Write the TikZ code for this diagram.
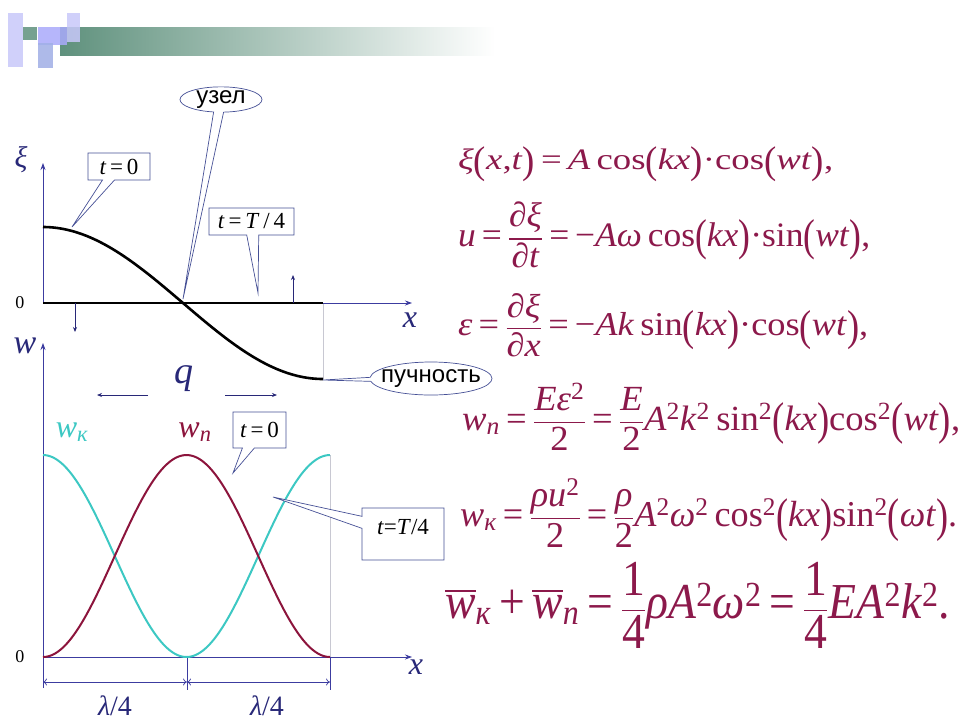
\documentclass[tikz,border=0pt]{standalone}
\usepackage{amsmath}
\usepackage{fontspec}
\setmainfont{Liberation Serif}[ItalicFont={Liberation Serif Italic}, BoldFont={Liberation Serif Bold}]
\newfontfamily\labelsans{Liberation Sans}
\usepackage{graphicx}
\newcommand{\iv}[1]{\textit{#1}}
\newcommand{\LP}{\raisebox{-0.14em}{\scalebox{1}[1.3]{(}}}
\newcommand{\RP}{\raisebox{-0.14em}{\scalebox{1}[1.3]{)}}}
\newcommand{\Fr}[2]{$\dfrac{\text{#1}}{\text{#2}}$}
\newcommand{\eqs}{\,=\,}
\usetikzlibrary{arrows.meta,shapes.callouts,shapes.geometric,calc}
\definecolor{navy}{RGB}{40,40,120}
\definecolor{axblue}{RGB}{60,60,160}
\definecolor{eqred}{RGB}{140,25,75}
\definecolor{curvered}{RGB}{140,20,60}
\definecolor{curvecyan}{RGB}{60,200,195}
\definecolor{cbord}{RGB}{70,80,150}
\definecolor{thingray}{RGB}{200,200,210}
\definecolor{barteal}{RGB}{95,145,125}
\definecolor{lav}{RGB}{200,200,250}
\definecolor{lavb}{RGB}{160,175,230}
\newcommand{\fs}[1]{\fontsize{#1}{#1}\selectfont}
\tikzset{
  axisline/.style={draw=axblue, line width=0.8pt, -{Stealth[length=7pt,width=5pt]}},
  smallarr/.style={draw=navy, line width=0.8pt, -{Stealth[length=5pt,width=4pt]}},
  dimarr/.style={draw=axblue, line width=0.7pt, {To[length=4pt,width=7pt]}-{To[length=4pt,width=7pt]}},
  tickline/.style={draw=axblue, line width=0.7pt},
  guide/.style={draw=thingray, line width=0.6pt},
  lbl/.style={inner sep=0pt, text=navy},
  cbox/.style={rectangle callout, draw=cbord, fill=white, line width=0.7pt, inner sep=0pt, font=\fs{23}, callout pointer width=12pt},
  cell/.style={ellipse callout, draw=cbord, fill=white, line width=0.7pt, inner sep=0pt, font=\labelsans\fs{24}, callout pointer arc=14},
  eqn/.style={anchor=north west, inner sep=0pt, text=eqred},
  logo/.style={draw=none, fill opacity=0.85}
}
\begin{document}
\begin{tikzpicture}[x=1pt,y=-1pt]
\useasboundingbox[fill=white] (0,0) rectangle (968,721);
% header bar and logo
\shade[left color=barteal, middle color=barteal!55, right color=white, draw=none] (60,27) rectangle (495,55);
\fill[logo, lav] (8,13) rectangle (23,67);
\fill[logo, lav] (67,13) rectangle (80,42);
\fill[logo, lav!85!blue] (38,27) rectangle (67,45);
\fill[logo, lavb] (38,43) rectangle (53,68);
\fill[logo, barteal] (23,27) rectangle (37,40);

% ---------- upper plot ----------
\coordinate (O1) at (43,303);
\coordinate (Y1) at (43,163);
\coordinate (X1) at (412,303);
\coordinate (E1) at (323,303);
\coordinate (E1b) at (323,380);
\draw[guide] (E1) -- (E1b);
\draw[axisline] (O1) -- (Y1);
\draw[axisline] (O1) -- (X1);
\draw[line width=2.6pt, black] (O1) -- (E1);
\draw[line width=2.6pt, black] plot[domain=0:180, samples=90] ({43+\x/180*280},{303-76*cos(\x)});
\coordinate (D1) at (75,303); \coordinate (D2) at (75,332);
\coordinate (U1) at (293,303); \coordinate (U2) at (293,275);
\draw[smallarr] (D1) -- (D2);
\draw[smallarr] (U1) -- (U2);
\node[lbl, font=\fs{30}] (xilbl) at (21,160) {\iv{ξ}};
\node[inner sep=0pt, font=\fs{18}] (zero1) at (20,303) {0};
\node[lbl, font=\fs{32}] (xlbl1) at (410,320) {\iv{x}};

% callouts upper
\coordinate (tipA) at (72,227);
\coordinate (tipB) at (258,293);
\coordinate (tipC) at (183,299);
\coordinate (tipD) at (323,380);
\node[cbox, minimum width=62pt, minimum height=27pt, callout absolute pointer={(tipA)}] (c1) at (119,166.5) {\iv{t}\eqs 0};
\node[cbox, minimum width=85pt, minimum height=27pt, callout absolute pointer={(tipB)}] (c2) at (251.5,221.5) {\iv{t}\eqs\iv{T}\,/\,4};
\node[cell, minimum width=82pt, minimum height=25pt, callout absolute pointer={(tipC)}] (uzel) at (221,99.5) {узел};
\node[cell, inner xsep=-8pt, minimum width=122pt, minimum height=33pt, callout absolute pointer={(tipD)}] (puch) at (431,378.5) {пучность};

% ---------- lower plot ----------
\coordinate (O2) at (43,657);
\coordinate (Y2b) at (43,688);
\coordinate (Y2) at (43,343);
\coordinate (X2) at (412,657);
\coordinate (M2) at (187,657);
\coordinate (M2b) at (187,690);
\coordinate (R2) at (330,657);
\coordinate (R2b) at (330,690);
\coordinate (R2t) at (330,455);
\draw[guide] (R2t) -- (R2);
\draw[axisline] (Y2b) -- (Y2);
\draw[axisline] (O2) -- (X2);
\draw[tickline] (M2) -- (M2b);
\draw[tickline] (R2) -- (R2b);
\draw[line width=2pt, curvecyan] plot[domain=0:180, samples=120] ({43+\x/180*287},{657-202*pow(cos(\x),2)});
\draw[line width=2pt, curvered] plot[domain=0:180, samples=120] ({43+\x/180*287},{657-202*pow(sin(\x),2)});
\coordinate (DL) at (43,682); \coordinate (DM) at (187,682); \coordinate (DR) at (330,682);
\draw[dimarr] (DL) -- (DM);
\draw[dimarr] (DM) -- (DR);
\node[lbl, font=\fs{28}] (lam1) at (115,706) {\iv{λ}/4};
\node[lbl, font=\fs{28}] (lam2) at (267,706) {\iv{λ}/4};
\node[lbl, font=\fs{34}] (wlbl) at (25,346) {\iv{w}};
\node[inner sep=0pt, font=\fs{18}] (zero2) at (20,657) {0};
\node[lbl, font=\fs{32}] (xlbl2) at (416,667) {\iv{x}};
\node[lbl, font=\fs{38}] (qlbl) at (184,379) {\iv{q}};
\coordinate (qa1) at (148,395); \coordinate (qa2) at (97,395);
\coordinate (qb1) at (225,395); \coordinate (qb2) at (277,395);
\draw[smallarr] (qa1) -- (qa2);
\draw[smallarr] (qb1) -- (qb2);
\node[inner sep=0pt, text=curvecyan, font=\fs{32}] (wk) at (72,432) {\iv{w}\textsubscript{\iv{к}}};
\node[inner sep=0pt, text=curvered, font=\fs{32}] (wn) at (195,432) {\iv{w}\textsubscript{\iv{п}}};
\coordinate (tipE) at (233,473);
\coordinate (tipF) at (273,497);
\node[cbox, minimum width=53pt, minimum height=36pt, callout absolute pointer={(tipE)}] (c3) at (259.5,430) {\iv{t}\eqs 0};
\node[cbox, minimum width=82pt, minimum height=52pt, text height=22pt, text depth=22pt, callout absolute pointer={(tipF)}] (c4) at (403,534) {\iv{t}=\iv{T}/4};

% ---------- equations ----------
\node[eqn] (eq1) at (458,147) {\resizebox*{375pt}{35pt}{\fs{30}\iv{ξ}\LP\iv{x},\iv{t}\RP\eqs\iv{A}\,cos\LP\iv{kx}\RP·cos\LP\iv{wt}\RP,}};
\node[eqn] (eq2) at (458,202) {\resizebox*{412pt}{66pt}{\fs{30}\iv{u}\eqs\Fr{∂\iv{ξ}}{∂\iv{t}}\eqs−\iv{Aω}\,cos\LP\iv{kx}\RP·sin\LP\iv{wt}\RP,}};
\node[eqn] (eq3) at (458,293) {\resizebox*{410pt}{64pt}{\fs{30}\iv{ε}\eqs\Fr{∂\iv{ξ}}{∂\iv{x}}\eqs−\iv{Ak}\,sin\LP\iv{kx}\RP·cos\LP\iv{wt}\RP,}};
\node[eqn] (eq4) at (462,383) {\resizebox*{498pt}{67pt}{\fs{30}\iv{w}\textsubscript{\iv{п}}\eqs\Fr{\iv{Eε}\textsuperscript{2}}{2}\eqs\Fr{\iv{E}}{2}\iv{A}\textsuperscript{2}\iv{k}\textsuperscript{2}\,sin\textsuperscript{2}\LP\iv{kx}\RP cos\textsuperscript{2}\LP\iv{wt}\RP,}};
\node[eqn] (eq5) at (460,478) {\resizebox*{497pt}{69pt}{\fs{30}\iv{w}\textsubscript{\iv{к}}\eqs\Fr{\iv{ρu}\textsuperscript{2}}{2}\eqs\Fr{\iv{ρ}}{2}\iv{A}\textsuperscript{2}\iv{ω}\textsuperscript{2}\,cos\textsuperscript{2}\LP\iv{kx}\RP sin\textsuperscript{2}\LP\iv{ωt}\RP.}};
\node[eqn] (eq6) at (445,562) {\resizebox*{505pt}{86pt}{\fs{36}$\overline{\text{\iv{w}}}$\textsubscript{\iv{к}}\,+\,$\overline{\text{\iv{w}}}$\textsubscript{\iv{п}}\eqs\Fr{1}{4}\iv{ρA}\textsuperscript{2}\iv{ω}\textsuperscript{2}\eqs\Fr{1}{4}\iv{EA}\textsuperscript{2}\iv{k}\textsuperscript{2}.}};
\end{tikzpicture}
\end{document}
